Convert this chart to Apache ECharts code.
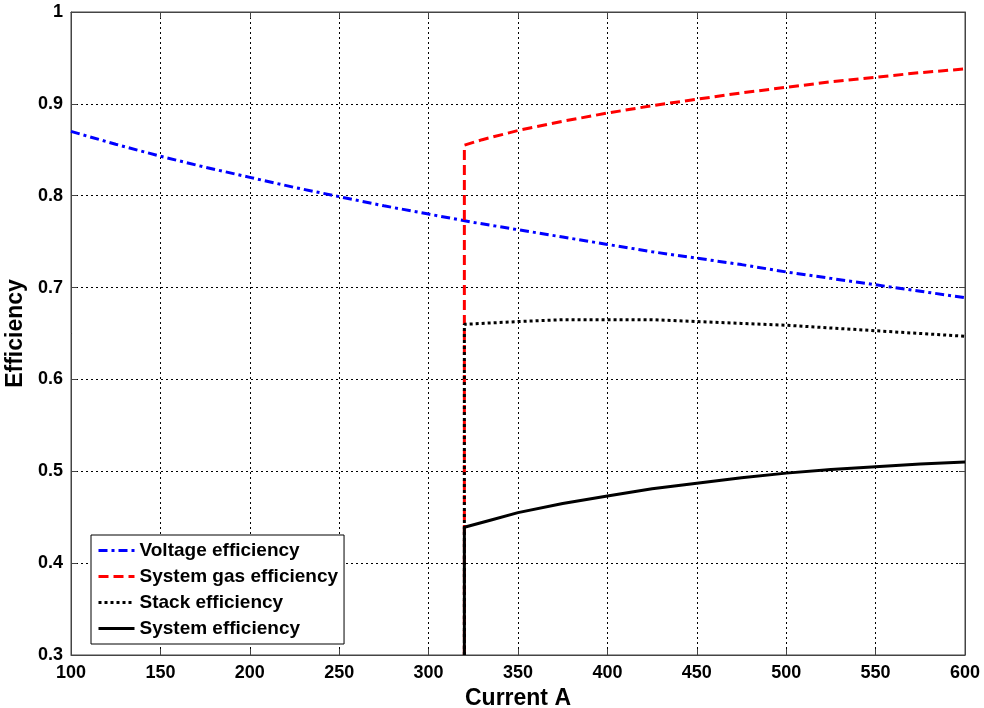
<!DOCTYPE html>
<html>
<head>
<meta charset="utf-8">
<script src="https://cdn.jsdelivr.net/npm/echarts@6/dist/echarts.min.js"></script>
<style>
  html, body { margin: 0; padding: 0; background: #fff; }
  #main { width: 984px; height: 708px; }
</style>
</head>
<body>
<div id="main"></div>
<script>
// 电流 (A)
var voltX = [100, 125, 150, 175, 200, 225, 250, 275, 300, 325, 350, 375, 400, 425, 450, 475, 500, 525, 550, 575, 600];
var voltY = [0.870, 0.856, 0.843, 0.831, 0.820, 0.809, 0.799, 0.789, 0.780, 0.771, 0.763, 0.755, 0.747, 0.739, 0.732, 0.725, 0.717, 0.710, 0.703, 0.696, 0.689];

var gasX = [320, 320, 330, 350, 375, 400, 425, 450, 475, 500, 525, 550, 575, 600];
var gasY = [0.300, 0.855, 0.861, 0.871, 0.881, 0.890, 0.898, 0.905, 0.912, 0.918, 0.924, 0.929, 0.934, 0.938];

var stackX = [320, 320, 350, 375, 400, 425, 450, 475, 500, 525, 550, 575, 600];
var stackY = [0.300, 0.660, 0.663, 0.665, 0.665, 0.665, 0.663, 0.661, 0.659, 0.656, 0.653, 0.650, 0.647];

var sysX = [320, 320, 335, 350, 375, 400, 425, 450, 475, 500, 525, 550, 575, 600];
var sysY = [0.300, 0.439, 0.447, 0.455, 0.465, 0.473, 0.481, 0.487, 0.493, 0.498, 0.502, 0.505, 0.508, 0.510];

var names = ['Voltage efficiency', 'System gas efficiency', 'Stack efficiency', 'System efficiency'];

function pairs(xs, ys) {
  return xs.map(function (x, i) { return [x, ys[i]]; });
}

var font = 'Liberation Sans, Arial, sans-serif';
var axisColor = '#444';
var gridLine = { show: true, lineStyle: { color: '#000', type: [2, 3], width: 1 } };
//MATLAB风格的上/右框线刻度
var boxAxis = {
  axisLine: { show: true, onZero: false, lineStyle: { color: axisColor } },
  axisTick: { show: true, inside: true, length: 6, lineStyle: { color: axisColor } },
  axisLabel: { show: false },
  splitLine: { show: false }
};

var chart = echarts.init(document.getElementById('main'));
var option = {
  animation: false,
  backgroundColor: '#fff',
  grid: {
    left: 71, right: 19, top: 12, bottom: 53,
    outerBoundsMode: 'none',
    containLabel: false,
    show: true, borderColor: axisColor, borderWidth: 1
  },
  legend: {
    orient: 'vertical',
    left: 91, top: 535,
    padding: [6, 6, 6, 6],
    itemGap: 7,
    itemWidth: 36,
    itemHeight: 18,
    backgroundColor: '#fff',
    borderColor: '#000',
    borderWidth: 1,
    borderRadius: 0,
    itemStyle: { opacity: 0 },
    lineStyle: { width: 3 },
    textStyle: { fontFamily: font, fontWeight: 'bold', fontSize: 19, color: '#000' },
    data: names
  },
  xAxis: [Object.assign({
    type: 'value',
    min: 100, max: 600, interval: 50,
    name: 'Current A',
    nameLocation: 'middle',
    nameGap: 30,
    nameTextStyle: { fontFamily: font, fontWeight: 'bold', fontSize: 23, color: '#000' }
  }, boxAxis, {
    axisLabel: { fontFamily: font, fontWeight: 'bold', fontSize: 18, color: '#000', margin: 9 },
    splitLine: gridLine
  }), Object.assign({
    type: 'value', position: 'top',
    min: 100, max: 600, interval: 50
  }, boxAxis)],
  yAxis: [Object.assign({
    type: 'value',
    min: 0.3, max: 1, interval: 0.1,
    name: 'Efficiency',
    nameLocation: 'middle',
    nameGap: 39,
    nameTextStyle: { fontFamily: font, fontWeight: 'bold', fontSize: 23, color: '#000' }
  }, boxAxis, {
    axisLabel: {
      fontFamily: font, fontWeight: 'bold', fontSize: 18, color: '#000', margin: 8,
      formatter: function (v) { return String(Math.round(v * 10) / 10); }
    },
    splitLine: gridLine
  }), Object.assign({
    type: 'value', position: 'right',
    min: 0.3, max: 1, interval: 0.1
  }, boxAxis)],
  series: [{
    name: names[0],
    type: 'line',
    symbol: 'none',
    data: pairs(voltX, voltY),
    itemStyle: { color: '#0000ff' },
    lineStyle: { color: '#0000ff', width: 3, type: [9, 4, 3, 4] }
  }, {
    name: names[1],
    type: 'line',
    symbol: 'none',
    data: pairs(gasX, gasY),
    itemStyle: { color: '#ff0000' },
    lineStyle: { color: '#ff0000', width: 3, type: [10, 5] }
  }, {
    name: names[2],
    type: 'line',
    symbol: 'none',
    data: pairs(stackX, stackY),
    itemStyle: { color: '#000' },
    lineStyle: { color: '#000', width: 3, type: [3, 3] }
  }, {
    name: names[3],
    type: 'line',
    symbol: 'none',
    data: pairs(sysX, sysY),
    itemStyle: { color: '#000' },
    lineStyle: { color: '#000', width: 3, type: 'solid' }
  }]
};
chart.setOption(option);
</script>
</body>
</html>
